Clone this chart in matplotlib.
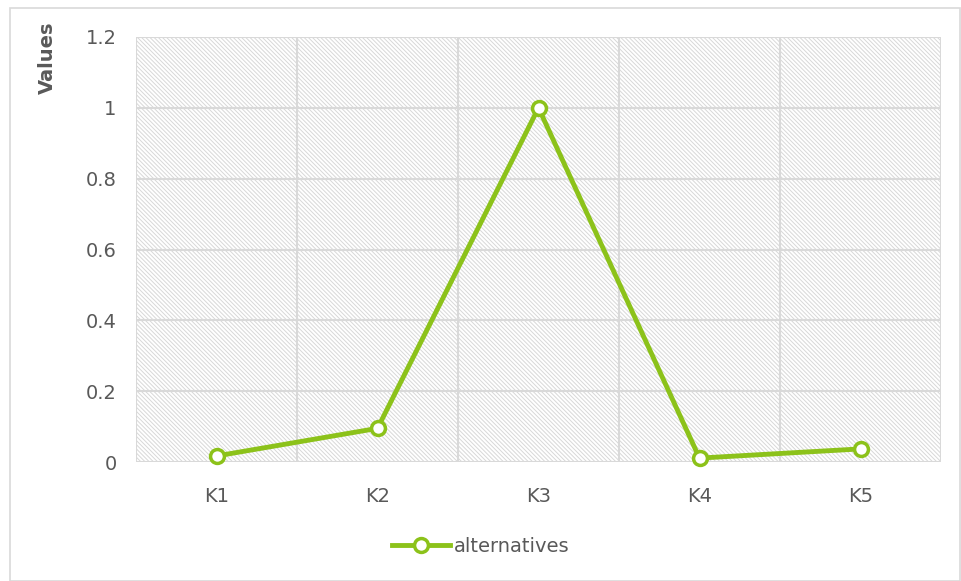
import matplotlib
matplotlib.use("Agg")
import matplotlib.pyplot as plt
from matplotlib.patches import Rectangle

categories = ["K1", "K2", "K3", "K4", "K5"]
values = [0.017, 0.095, 1.0, 0.011, 0.037]
series_name = "alternatives"
y_ticks = [0, 0.2, 0.4, 0.6, 0.8, 1, 1.2]
y_tick_labels = ["0", "0.2", "0.4", "0.6", "0.8", "1", "1.2"]

line_color = "#8CC21A"
grid_color = "#D9D9D9"
text_color = "#595959"

plt.rcParams["font.family"] = ["DejaVu Sans"]
plt.rcParams["hatch.color"] = "#D8D8D8"
plt.rcParams["hatch.linewidth"] = 0.7

fig = plt.figure(figsize=(9.62, 5.81), dpi=100)
ax = fig.add_axes([136/962, 1 - 462/581, (941-136)/962, (462-37)/581])

# outer chart border
fig.patches.append(Rectangle((10/962, 0), 950/962, 1 - 8/581, transform=fig.transFigure,
                             fill=False, edgecolor="#D9D9D9", linewidth=1.2, zorder=0))

# hatched plot area
ax.add_patch(Rectangle((0, 0), 1, 1, transform=ax.transAxes, facecolor="white",
                       hatch="\\" * 8, edgecolor="#D8D8D8", linewidth=0, zorder=0))

x = list(range(len(categories)))
ax.plot(x, values, color=line_color, linewidth=3.5, marker="o", markersize=10,
        markerfacecolor="white", markeredgecolor=line_color, markeredgewidth=2.5,
        zorder=5, label=series_name, clip_on=False)

ax.set_xlim(-0.5, len(categories) - 0.5)
ax.set_ylim(0, 1.2)
ax.set_yticks(y_ticks)
ax.set_yticklabels(y_tick_labels)
ax.set_xticks(x)
ax.set_xticklabels(categories)

# horizontal grid at ticks, vertical grid at category boundaries
for yv in y_ticks:
    ax.axhline(yv, color=grid_color, linewidth=1.5, zorder=1)
for b in range(len(categories) + 1):
    ax.axvline(b - 0.5, color=grid_color, linewidth=1.5, zorder=1)

for s in ax.spines.values():
    s.set_visible(False)
ax.tick_params(axis="both", length=0, colors=text_color, labelsize=14)
ax.tick_params(axis="x", pad=18)
ax.tick_params(axis="y", pad=14)

fig.text(47/962, 1 - 58/581, "Values", rotation=90, ha="center", va="center",
         fontsize=14, fontweight="bold", color=text_color)

leg = fig.legend(loc="center", bbox_to_anchor=(0.5, 1 - 546/581), frameon=False,
                 fontsize=14, handlelength=3.0, labelcolor=text_color, handletextpad=0.2)

fig.savefig("out.png", dpi=100)
